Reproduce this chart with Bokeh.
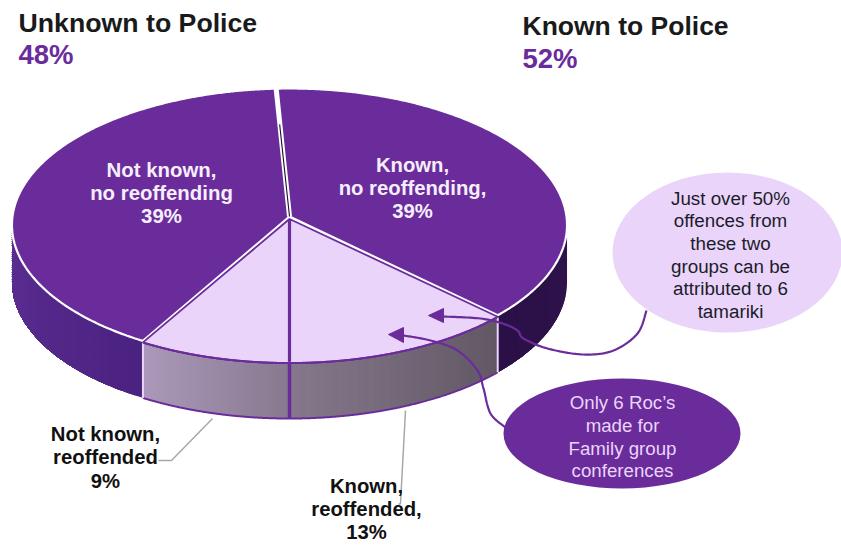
import numpy as np
from bokeh.plotting import figure
from bokeh.embed import file_html
from bokeh.resources import INLINE
from bokeh.core.properties import value

# Shares of offences, clockwise from the front of the pie
segments = ["Not known, reoffended", "Not known, no reoffending", "Known, no reoffending", "Known, reoffended"]
shares = [9, 39, 39, 13]
unknown_total = shares[0] + shares[1]
known_total = shares[2] + shares[3]

PURPLE = "#6a2c9b"
LILAC = "#ead4fa"
WHITE = "#ffffff"
FONT = value("Liberation Sans")

# Camera model of the tilted disc
CX, CY = 289.0, 216.0
RX, RY = 277.0, 136.0
PERSP = 0.0622
DEPTH = 57.0


def project(theta_deg):
    """Screen position of a rim angle; 0 is the front, angles grow clockwise."""
    t = np.radians(np.asarray(theta_deg, dtype=float))
    phi = t + 0.227 * np.sin(t) - 0.18 * np.sin(2 * t)
    u, v = -np.sin(phi), np.cos(phi)
    d = 1 - PERSP * v
    return CX + RX * u / d, CY + RY * v / d


edges = np.cumsum([0] + shares) * 3.6
arcs = [np.linspace(edges[i], edges[i + 1], 240) for i in range(4)]

p = figure(width=841, height=548, x_range=(0, 841), y_range=(548, 0),
           output_backend="svg", toolbar_location=None, min_border=0,
           outline_line_color=None, background_fill_color=WHITE)
p.axis.visible = False
p.grid.visible = False


def lerp_hex(a, b, f):
    ca = [int(a[i:i + 2], 16) for i in (1, 3, 5)]
    cb = [int(b[i:i + 2], 16) for i in (1, 3, 5)]
    return "#%02x%02x%02x" % tuple(int(round(x + (y - x) * f)) for x, y in zip(ca, cb))


def wall(thetas, start, end, steps=36):
    """Side wall under a rim arc, painted as shrinking bands so no seams show."""
    ends = np.linspace(0, len(thetas) - 1, steps + 1).astype(int)
    for i in range(steps):
        x, y = project(thetas[ends[i]:])
        color = lerp_hex(start, end, i / max(steps - 1, 1))
        p.patch(list(x) + list(x[::-1]), list(y) + list((y + DEPTH)[::-1]),
                fill_color=color, line_color=None)


# Left wall of the dark slice, up to the leftmost point of the rim
left_arc = arcs[1]
left_x, _ = project(left_arc)
left_visible = left_arc[:int(np.argmin(left_x)) + 1]
wall(left_visible, "#4a2280", "#5c2d92", 24)

# Right wall of the dark slice, from the rightmost point of the rim
right_arc = arcs[2]
right_x, _ = project(right_arc)
right_visible = right_arc[int(np.argmax(right_x)):]
wall(right_visible, "#2f134d", "#2a1046", 6)

# Front walls of the two light slices
wall(arcs[0], "#87798f", "#ab98ba", 40)
wall(arcs[3], "#625864", "#85788c", 40)

# Outlines of the front walls
for arc in (arcs[0], arcs[3]):
    x, y = project(arc)
    p.line(x, y + DEPTH, line_color=PURPLE, line_width=2)
    p.line(x, y + 1.5, line_color=PURPLE, line_width=2)
fx, fy = project(edges[0])
p.line([fx, fx], [fy, fy + DEPTH], line_color=PURPLE, line_width=3.5)
for th in (edges[1], edges[3]):
    x0, y0 = project(th)
    p.line([x0, x0], [y0 + 2, y0 + DEPTH], line_color=LILAC, line_width=2)

# Dark top slices with a white rim
for i in (1, 2):
    x, y = project(arcs[i])
    p.patch(list(x) + [CX], list(y) + [CY], fill_color=PURPLE, line_color=WHITE, line_width=2.2)

# Light top slices, set forward a little so the white seam stays open
for i in (0, 3):
    x, y = project(arcs[i])
    p.patch(list(x) + [CX], list(y + 1.5) + [CY + 2.5], fill_color=LILAC,
            line_color=PURPLE, line_width=1.8)
    p.line(x, y + 1.5, line_color=PURPLE, line_width=2)

# Front divider across the light slices
p.line([CX, fx], [CY + 3, fy], line_color=PURPLE, line_width=3.2)

# Seam between the two dark slices
tx, ty = project(edges[2])
p.line([CX, tx], [CY, ty - 3], line_color=WHITE, line_width=5)
p.line([CX, CX + (tx - CX) * 0.72], [CY, CY + (ty - CY) * 0.72], line_color="#1c1030", line_width=1.1)

# Callout bubbles
p.ellipse([727], [252], width=230, height=160, fill_color=LILAC, line_color=None)
p.ellipse([621.5], [433], width=237, height=110, fill_color=PURPLE, line_color=None)


def smooth(points, n=14):
    """Catmull-Rom curve through the given points."""
    pts = np.array(points, dtype=float)
    pts = np.vstack([pts[0], pts, pts[-1]])
    out = []
    for i in range(1, len(pts) - 2):
        p0, p1, p2, p3 = pts[i - 1], pts[i], pts[i + 1], pts[i + 2]
        for t in np.linspace(0, 1, n, endpoint=False):
            out.append(0.5 * (2 * p1 + (p2 - p0) * t + (2 * p0 - 5 * p1 + 4 * p2 - p3) * t ** 2
                              + (3 * p1 - p0 - 3 * p2 + p3) * t ** 3))
    out.append(pts[-2])
    return np.array(out)


# Curved arrows from the bubbles into the light slices
curve_a = smooth([(646, 310), (637, 333), (613, 350), (583, 354), (547, 348), (523, 338),
                  (517, 330), (502, 323), (480, 318), (443, 316)])
curve_b = smooth([(505, 427), (490, 413), (483, 388), (477, 370), (457, 350), (430, 340), (403, 335)])
for c in (curve_a, curve_b):
    p.line(c[:, 0], c[:, 1], line_color=PURPLE, line_width=2.2)
p.patches([[428, 443, 443], [388, 403, 403]], [[315, 308, 322], [334, 327, 342]],
          fill_color=PURPLE, line_color=PURPLE, line_width=1)

# Leader lines from the wall to the outside labels
p.line([212, 171, 158], [418, 460, 460], line_color="#a8a8a8", line_width=1.5)
p.line([405, 400, 398], [410, 503, 504], line_color="#a8a8a8", line_width=1.5)


def label(lines, x, ys, size, color, bold=True, align="center"):
    p.text([x] * len(lines), ys, text=lines, text_font=FONT, text_font_size=f"{size}px",
           text_font_style="bold" if bold else "normal", text_color=color,
           text_align=align, text_baseline="middle")


label(["Unknown to Police"], 18, [22], 26.7, "#1a1a1a", align="left")
label([f"{unknown_total}%"], 18, [54], 27.5, PURPLE, align="left")
label(["Known to Police"], 522, [25], 26.5, "#1a1a1a", align="left")
label([f"{known_total}%"], 522, [58], 27.5, PURPLE, align="left")

label(["Not known,", "no reoffending", f"{shares[1]}%"], 161, [169, 192, 215], 20.4, "#f6effb")
label(["Known,", "no reoffending,", f"{shares[2]}%"], 412, [164, 187, 210], 20.3, "#f6effb")
label(["Not known,", "reoffended", f"{shares[0]}%"], 105, [433, 456, 480], 20.3, "#111111")
label(["Known,", "reoffended,", f"{shares[3]}%"], 366, [485, 508, 531], 20.3, "#111111")

label(["Just over 50%", "offences from", "these two", "groups can be", "attributed to 6", "tamariki"],
      730, [198, 220, 243, 266, 288, 311], 18.8, "#1c1c2a", bold=False)
label(["Only 6 Roc\u2019s", "made for", "Family group", "conferences"],
      622, [402, 425, 448, 470], 18.7, LILAC, bold=False)

open("out.html", "w").write(file_html(p, INLINE))
